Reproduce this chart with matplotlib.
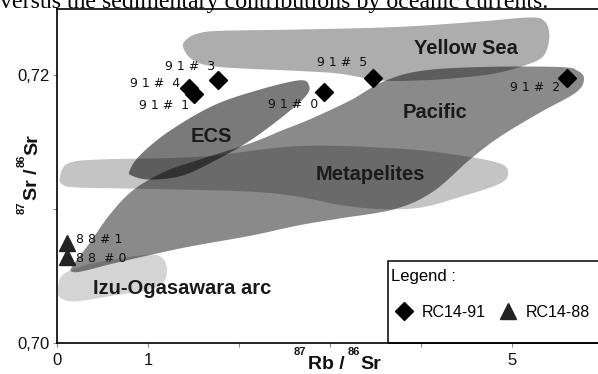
import numpy as np
import matplotlib
matplotlib.use("Agg")
import matplotlib.pyplot as plt
from matplotlib.patches import Polygon, Rectangle

plt.rcParams["font.family"] = ["Liberation Sans", "DejaVu Sans"]

# ---------------- data ----------------
rc91_labels = ["91# 0", "91# 1", "91# 2", "91# 3", "91# 4", "91# 5"]
rc91_rb_sr = [2.93, 1.50, 5.60, 1.77, 1.45, 3.47]
rc91_sr_sr = [0.7187, 0.7186, 0.7198, 0.7196, 0.7190, 0.7198]

rc88_labels = ["88 #0", "88#1"]
rc88_rb_sr = [0.11, 0.11]
rc88_sr_sr = [0.7064, 0.7075]

# field outlines (Rb/Sr, Sr/Sr)
yellow_sea_x = [1.385, 1.43, 1.55, 1.79, 2.67, 3.77, 4.65, 5.20, 5.36, 5.41, 5.37, 5.25, 4.87, 4.43, 3.99, 3.55, 3.11, 2.67, 1.79, 1.50]
yellow_sea_y = [0.7221, 0.7227, 0.7231, 0.7233, 0.7234, 0.7236, 0.7240, 0.7243, 0.7240, 0.7230, 0.7217, 0.7210, 0.7202, 0.7198, 0.7196, 0.7196, 0.7201, 0.7203, 0.7206, 0.7211]

ecs_x = [0.80, 0.91, 1.21, 1.68, 2.12, 2.65, 2.77, 2.73, 2.48, 2.12, 1.76, 1.38, 1.02, 0.82]
ecs_y = [0.7129, 0.7140, 0.7157, 0.7176, 0.7187, 0.7196, 0.7192, 0.7184, 0.7169, 0.7151, 0.7137, 0.7125, 0.7122, 0.7125]

pacific_x = [0.165, 0.363, 0.582, 0.835, 1.187, 1.571, 2.121, 2.484, 2.780, 3.220, 3.582, 3.989, 4.648, 5.527, 5.725, 5.791,
             5.703, 5.308, 4.868, 4.538, 4.132, 3.714, 3.110, 2.670, 2.121, 1.385, 0.659, 0.308, 0.176]
pacific_y = [0.7057, 0.7075, 0.7096, 0.7114, 0.7128, 0.7137, 0.7149, 0.7159, 0.7167, 0.7181, 0.7195, 0.7203, 0.7206, 0.7206, 0.7203, 0.7197,
             0.7187, 0.7172, 0.7154, 0.7137, 0.7113, 0.7100, 0.7093, 0.7088, 0.7080, 0.7071, 0.7060, 0.7054, 0.7053]

metapelites_x = [0.033, 0.121, 0.473, 1.571, 2.670, 3.769, 4.429, 4.868, 4.956, 4.868, 4.429, 3.989, 3.549, 3.110, 2.670, 2.121, 1.022, 0.253, 0.066]
metapelites_y = [0.7124, 0.7134, 0.7137, 0.7139, 0.7147, 0.7145, 0.7140, 0.7134, 0.7127, 0.7119, 0.7109, 0.7101, 0.7100, 0.7103, 0.7109, 0.7113, 0.7115, 0.7116, 0.7118]

izu_x = [0.011, 0.066, 0.308, 0.692, 1.022, 1.165, 1.209, 1.165, 1.022, 0.582, 0.198, 0.033]
izu_y = [0.7041, 0.7051, 0.7058, 0.7063, 0.7066, 0.7063, 0.7054, 0.7045, 0.7040, 0.7035, 0.7031, 0.7034]

field_names = ["Yellow Sea", "ECS", "Pacific", "Metapelites", "Izu-Ogasawara arc"]
field_label_x = [4.495, 1.692, 4.154, 3.44, 1.374]
field_label_y = [0.7220, 0.7154, 0.7172, 0.7126, 0.7041]

x_ticks = [0, 1, 2, 3, 4, 5]
x_tick_labels = ["0", "1", "", "", "", "5"]
y_ticks = [0.70, 0.71, 0.72]
y_tick_labels = ["0,70", "", "0,72"]

# ---------------- styling / layout ----------------
field_alpha = {"Yellow Sea": 0.32, "ECS": 0.52, "Pacific": 0.46, "Metapelites": 0.23, "Izu-Ogasawara arc": 0.17}
rc91_offsets = [(-31, -12), (-29, -12), (-32, -10), (-28, 14), (-34, 5), (-31, 15)]
rc88_offsets = [(9, -1), (9, 3)]


def closed_spline(xs, ys, n=24):
    P = np.column_stack([xs, ys]).astype(float)
    N = len(P)
    t = np.linspace(0, 1, n, endpoint=False)[:, None]
    segs = []
    for i in range(N):
        p0, p1, p2, p3 = P[(i - 1) % N], P[i], P[(i + 1) % N], P[(i + 2) % N]
        seg = 0.5 * (2 * p1 + (-p0 + p2) * t + (2 * p0 - 5 * p1 + 4 * p2 - p3) * t ** 2
                     + (-p0 + 3 * p1 - 3 * p2 + p3) * t ** 3)
        segs.append(seg)
    return np.vstack(segs)


def spaced(label):
    return " ".join(label).replace("   ", "  ")


W, H = 598, 374
fig = plt.figure(figsize=(W / 100, H / 100), dpi=100)
ax = fig.add_axes([57 / W, 31 / H, (W - 57) / W, 334 / H])
ax.set_xlim(0, 5.945)
ax.set_ylim(0.70, 0.72493)

fields = {
    "Yellow Sea": (yellow_sea_x, yellow_sea_y),
    "ECS": (ecs_x, ecs_y),
    "Pacific": (pacific_x, pacific_y),
    "Metapelites": (metapelites_x, metapelites_y),
    "Izu-Ogasawara arc": (izu_x, izu_y),
}
for name, (fx, fy) in fields.items():
    pts = closed_spline(fx, fy)
    ax.add_patch(Polygon(pts, closed=True, facecolor="black", alpha=field_alpha[name],
                         edgecolor="none", zorder=1))

for name, lx, ly in zip(field_names, field_label_x, field_label_y):
    ax.text(lx, ly, name, ha="center", va="center", fontsize=14.5, fontweight="bold",
            color="#1a1a1a", zorder=3)

h91, = ax.plot(rc91_rb_sr, rc91_sr_sr, "D", color="black", markersize=9, linestyle="none",
               label="RC14-91", zorder=5, clip_on=False)
h88, = ax.plot(rc88_rb_sr, rc88_sr_sr, "^", color="#222222", markersize=11.5, linestyle="none",
               label="RC14-88", zorder=5, clip_on=False)

for lab, x, y, off in zip(rc91_labels, rc91_rb_sr, rc91_sr_sr, rc91_offsets):
    ax.annotate(spaced(lab), (x, y), xytext=off, textcoords="offset pixels",
                ha="center", va="center", fontsize=9, family="DejaVu Sans", color="#111111", zorder=6)
for lab, x, y, off in zip(rc88_labels, rc88_rb_sr, rc88_sr_sr, rc88_offsets):
    ax.annotate(spaced(lab), (x, y), xytext=off, textcoords="offset pixels",
                ha="left", va="center", fontsize=9, family="DejaVu Sans", color="#111111", zorder=6)

# axes styling
for s in ["left", "bottom", "top"]:
    ax.spines[s].set_linewidth(1.2)
    ax.spines[s].set_color("black")
ax.spines["right"].set_visible(False)
ax.set_xticks(x_ticks)
ax.set_xticklabels(x_tick_labels)
ax.set_yticks(y_ticks)
ax.set_yticklabels(y_tick_labels)
ax.tick_params(direction="out", length=3, width=0.8, color="#888888", labelsize=12,
               labelcolor="#111111")
ax.tick_params(axis="x", pad=4)
ax.tick_params(axis="y", pad=2)

# legend box
ax.add_patch(Rectangle((331 / 541, 0), 0.45, 82 / 334, transform=ax.transAxes, fill=False,
                       edgecolor="black", linewidth=1.1, zorder=7, clip_on=False))
leg = ax.legend(handles=[h91, h88], loc="upper left", bbox_to_anchor=(331 / 541, 77 / 334),
                bbox_transform=ax.transAxes, frameon=False, title="Legend :", alignment="left",
                ncol=2, borderpad=0.2, borderaxespad=0, handlelength=1.6, handletextpad=0.3,
                columnspacing=0.6, labelspacing=1.3, fontsize=11.5, title_fontsize=12)
leg.set_zorder(8)

# axis titles built from pieces (isotope mass numbers as small raised text)
renderer = fig.canvas.get_renderer()


def piecewise_label(x0, y0, pieces, vertical=False):
    pos = x0 if not vertical else y0
    for s, fs, rise, gap in pieces:
        if vertical:
            t = fig.text((x0 - rise) / W, 1 - pos / H, s, fontsize=fs, fontweight="bold",
                         color="#111111", rotation=90, rotation_mode="anchor",
                         ha="left", va="baseline")
            pos -= t.get_window_extent(renderer).height + gap
        else:
            t = fig.text(pos / W, 1 - (y0 - rise) / H, s, fontsize=fs, fontweight="bold",
                         color="#111111", rotation_mode="anchor", ha="left", va="baseline")
            pos += t.get_window_extent(renderer).width + gap


piecewise_label(294, 369, [("87", 8, 14, 2), ("Rb /", 14, 0, 3), ("86", 8, 14, 0), ("Sr", 14, 0, 0)])
piecewise_label(37, 214, [("87", 8, 12, 1), ("Sr /", 14, 0, 2), ("86", 8, 12, 0), ("Sr", 14, 0, 0)],
                vertical=True)

# cropped caption at the top
fig.text(0 / W, 1 - 8 / H, "versus the sedimentary contributions by oceanic currents.",
         ha="left", va="baseline", fontsize=17.2, family="Liberation Serif", color="black")

fig.savefig("out.png", dpi=100)
